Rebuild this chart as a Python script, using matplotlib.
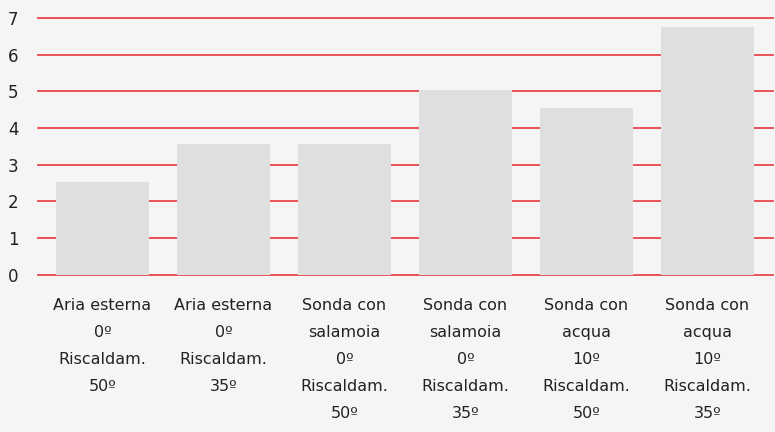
import matplotlib
matplotlib.use("Agg")
import matplotlib.pyplot as plt

labels = [
    "Aria esterna\n0º\nRiscaldam.\n50º",
    "Aria esterna\n0º\nRiscaldam.\n35º",
    "Sonda con\nsalamoia\n0º\nRiscaldam.\n50º",
    "Sonda con\nsalamoia\n0º\nRiscaldam.\n35º",
    "Sonda con\nacqua\n10º\nRiscaldam.\n50º",
    "Sonda con\nacqua\n10º\nRiscaldam.\n35º",
]
values = [2.53, 3.56, 3.56, 5.05, 4.55, 6.75]
yticks = [0, 1, 2, 3, 4, 5, 6, 7]

plt.rcParams['font.family'] = ['DejaVu Sans']

fig = plt.figure(figsize=(7.75, 4.32), dpi=100, facecolor='#f5f5f5')
ax = fig.add_axes([38 / 775, 157.3 / 432, 735 / 775, 256.7 / 432])
ax.set_facecolor('#f5f5f5')

x = list(range(len(values)))
ax.bar(x, values, width=0.77, color='#dfdfdf', zorder=2)

for t in yticks:
    ax.axhline(t, color='#e8474c', linewidth=1.3, zorder=1, clip_on=False)

ax.set_xlim(-0.533, 5.541)
ax.set_ylim(0, 7)
ax.set_yticks(yticks)
ax.set_xticks(x)
ax.set_xticklabels(labels, fontsize=11.5, color='#222222', linespacing=2.0)
ax.tick_params(axis='y', length=0, pad=14, labelsize=12, labelcolor='#222222')
ax.tick_params(axis='x', length=0, pad=17)
for s in ax.spines.values():
    s.set_visible(False)

fig.savefig('out.png', dpi=100, facecolor='#f5f5f5')
